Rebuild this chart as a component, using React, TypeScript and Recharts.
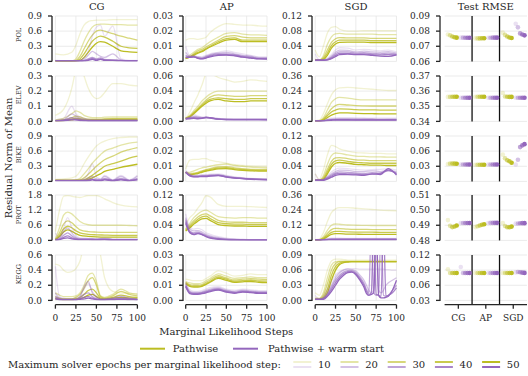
import React from "react";
import {
  LineChart,
  Line,
  XAxis,
  YAxis,
  CartesianGrid,
  ScatterChart,
  Scatter,
  ReferenceLine,
} from "recharts";

const FONT = "'DejaVu Serif', serif";
const INK = "#262626";
const OLIVE = "#bcbd22";
const PURPLE = "#9467bd";
const GRID_LINE = "#e6e6e6";

const epochs = [10, 20, 30, 40, 50];
const alphas = [0.2, 0.4, 0.6, 0.8, 1];
const methods = ["CG", "AP", "SGD"];
const datasets = ["POL", "ELEV", "BIKE", "PROT", "KEGG"];
const titles = ["CG", "AP", "SGD", "Test RMSE"];
const xTicks = [0, 25, 50, 75, 100];

const cgTicks = [[0, 0.3, 0.6, 0.9], [0, 0.1, 0.2, 0.3], [0, 0.3, 0.6, 0.9], [0, 0.6, 1.2, 1.8], [0, 0.2, 0.4, 0.6]];
const apTicks = [[0, 0.01, 0.02, 0.03], [0, 0.02, 0.04, 0.06], [0, 0.01, 0.02, 0.03], [0, 0.04, 0.08, 0.12], [0, 0.01, 0.02, 0.03]];
const sgdTicks = [[0, 0.04, 0.08, 0.12], [0, 0.12, 0.24, 0.36], [0, 0.04, 0.08, 0.12], [0, 0.12, 0.24, 0.36], [0, 0.03, 0.06, 0.09]];
const rmseTicks = [[0.06, 0.07, 0.08, 0.09], [0.34, 0.35, 0.36, 0.37], [0, 0.03, 0.06, 0.09], [0.48, 0.49, 0.5, 0.51], [0.03, 0.06, 0.09, 0.12]];

// marginal likelihood steps at which the curves are read
const stepsA = [0, 5, 10, 15, 20, 25, 30, 40, 50, 60, 70, 80, 90, 100];
const stepsCG = [0, 10, 20, 25, 30, 35, 40, 45, 50, 55, 60, 70, 80, 90, 100];
const stepsCgKegg = [0, 5, 10, 15, 20, 25, 30, 35, 40, 45, 50, 55, 60, 70, 80, 90, 100];
const stepsSgdKegg = [0, 5, 10, 15, 20, 25, 30, 35, 40, 45, 50, 55, 60, 63, 66, 69, 72, 75, 78, 81, 84, 87, 90, 95, 100];

// each panel: pathwise 10..50 epochs, then warm start 10..50 epochs
const cgPol = [
  [0.15, 0.13, 0.18, 0.32, 0.55, 0.72, 0.79, 0.81, 0.82, 0.82, 0.82, 0.83, 0.83, 0.83, 0.83],
  [0.005, 0.005, 0.01, 0.05, 0.2, 0.4, 0.56, 0.68, 0.73, 0.74, 0.74, 0.73, 0.73, 0.72, 0.72],
  [0.005, 0.005, 0.005, 0.02, 0.1, 0.25, 0.4, 0.52, 0.6, 0.62, 0.6, 0.55, 0.5, 0.46, 0.42],
  [0.005, 0.005, 0.005, 0.01, 0.05, 0.15, 0.28, 0.4, 0.47, 0.5, 0.48, 0.4, 0.3, 0.27, 0.26],
  [0.005, 0.005, 0.005, 0.005, 0.02, 0.08, 0.18, 0.28, 0.36, 0.39, 0.38, 0.3, 0.21, 0.19, 0.18],
  [0.02, 0.01, 0.01, 0.01, 0.02, 0.08, 0.2, 0.5, 0.68, 0.72, 0.5, 0.7, 0.05, 0.02, 0.02],
  [0.01, 0.01, 0.01, 0.01, 0.02, 0.05, 0.12, 0.2, 0.15, 0.1, 0.08, 0.15, 0.03, 0.01, 0.01],
  [0.01, 0.01, 0.01, 0.01, 0.01, 0.02, 0.05, 0.08, 0.05, 0.07, 0.04, 0.03, 0.02, 0.01, 0.01],
  [0.01, 0.01, 0.01, 0.01, 0.01, 0.015, 0.03, 0.06, 0.03, 0.05, 0.03, 0.02, 0.015, 0.01, 0.01],
  [0.01, 0.01, 0.01, 0.01, 0.01, 0.01, 0.02, 0.04, 0.02, 0.04, 0.02, 0.02, 0.015, 0.015, 0.015],
];
const cgElev = [
  [0.04, 0.08, 0.22, 0.34, 0.38, 0.3, 0.22, 0.17, 0.15, 0.16, 0.19, 0.25, 0.25, 0.24, 0.235],
  [0.01, 0.02, 0.05, 0.07, 0.06, 0.04, 0.03, 0.025, 0.025, 0.025, 0.028, 0.03, 0.03, 0.03, 0.03],
  [0.005, 0.01, 0.025, 0.035, 0.03, 0.02, 0.015, 0.015, 0.015, 0.015, 0.018, 0.02, 0.02, 0.02, 0.02],
  [0.005, 0.008, 0.015, 0.022, 0.018, 0.012, 0.01, 0.01, 0.01, 0.01, 0.012, 0.014, 0.014, 0.014, 0.014],
  [0.004, 0.006, 0.01, 0.015, 0.012, 0.009, 0.008, 0.008, 0.008, 0.008, 0.009, 0.01, 0.01, 0.01, 0.01],
  [0.01, 0.02, 0.1, 0.05, 0.03, 0.02, 0.015, 0.01, 0.01, 0.01, 0.01, 0.01, 0.01, 0.01, 0.01],
  [0.005, 0.01, 0.05, 0.035, 0.02, 0.015, 0.01, 0.008, 0.008, 0.008, 0.008, 0.008, 0.008, 0.008, 0.008],
  [0.005, 0.008, 0.025, 0.02, 0.012, 0.008, 0.006, 0.006, 0.006, 0.006, 0.006, 0.006, 0.006, 0.006, 0.006],
  [0.004, 0.006, 0.015, 0.012, 0.008, 0.006, 0.005, 0.005, 0.005, 0.005, 0.005, 0.005, 0.005, 0.005, 0.005],
  [0.004, 0.005, 0.01, 0.01, 0.006, 0.005, 0.004, 0.004, 0.004, 0.004, 0.004, 0.004, 0.004, 0.004, 0.004],
];
const cgBike = [
  [0.04, 0.05, 0.07, 0.1, 0.2, 0.35, 0.48, 0.6, 0.7, 0.76, 0.8, 0.85, 0.87, 0.88, 0.88],
  [0.02, 0.02, 0.02, 0.03, 0.06, 0.15, 0.25, 0.36, 0.45, 0.53, 0.6, 0.66, 0.72, 0.76, 0.78],
  [0.02, 0.02, 0.02, 0.02, 0.03, 0.07, 0.14, 0.22, 0.3, 0.37, 0.43, 0.5, 0.58, 0.63, 0.67],
  [0.02, 0.02, 0.02, 0.02, 0.02, 0.03, 0.07, 0.12, 0.18, 0.24, 0.3, 0.35, 0.4, 0.46, 0.5],
  [0.02, 0.02, 0.02, 0.02, 0.02, 0.02, 0.04, 0.07, 0.11, 0.15, 0.2, 0.24, 0.28, 0.31, 0.34],
  [0.02, 0.02, 0.02, 0.02, 0.02, 0.05, 0.15, 0.35, 0.1, 0.05, 0.12, 0.03, 0.12, 0.03, 0.12],
  [0.02, 0.02, 0.02, 0.02, 0.02, 0.03, 0.06, 0.1, 0.05, 0.04, 0.1, 0.02, 0.1, 0.02, 0.1],
  [0.02, 0.02, 0.02, 0.02, 0.02, 0.02, 0.03, 0.05, 0.03, 0.03, 0.06, 0.02, 0.06, 0.02, 0.06],
  [0.015, 0.015, 0.015, 0.015, 0.015, 0.015, 0.02, 0.04, 0.02, 0.02, 0.04, 0.015, 0.04, 0.015, 0.04],
  [0.015, 0.015, 0.015, 0.015, 0.015, 0.015, 0.015, 0.03, 0.015, 0.015, 0.03, 0.015, 0.03, 0.015, 0.03],
];
const cgProt = [
  [0.35, 1.2, 1.75, 1.78, 1.75, 1.72, 1.7, 1.78, 1.78, 1.65, 1.5, 1.4, 1.35, 1.33],
  [0.05, 0.5, 1.0, 1.12, 1.05, 0.9, 0.75, 0.62, 0.6, 0.6, 0.6, 0.6, 0.59, 0.58],
  [0.03, 0.3, 0.65, 0.77, 0.7, 0.55, 0.42, 0.35, 0.33, 0.32, 0.32, 0.32, 0.32, 0.32],
  [0.02, 0.2, 0.45, 0.56, 0.5, 0.38, 0.3, 0.24, 0.22, 0.21, 0.2, 0.2, 0.2, 0.2],
  [0.02, 0.15, 0.33, 0.42, 0.36, 0.27, 0.2, 0.16, 0.14, 0.13, 0.13, 0.13, 0.13, 0.13],
  [0.3, 0.1, 0.5, 0.9, 0.5, 0.2, 0.1, 0.08, 0.06, 0.1, 0.05, 0.05, 0.05, 0.05],
  [0.05, 0.1, 0.35, 0.5, 0.3, 0.12, 0.07, 0.06, 0.05, 0.07, 0.04, 0.04, 0.04, 0.04],
  [0.03, 0.06, 0.2, 0.3, 0.18, 0.08, 0.05, 0.05, 0.04, 0.05, 0.03, 0.03, 0.03, 0.03],
  [0.02, 0.04, 0.12, 0.18, 0.1, 0.05, 0.04, 0.04, 0.03, 0.04, 0.03, 0.03, 0.03, 0.03],
  [0.02, 0.03, 0.08, 0.1, 0.06, 0.04, 0.03, 0.03, 0.03, 0.03, 0.02, 0.02, 0.02, 0.02],
];
const cgKegg = [
  [0.48, 0.46, 0.4, 0.37, 0.38, 0.42, 0.52, 0.75, 0.9, 0.9, 0.8, 0.6, 0.3, 0.12, 0.1, 0.09, 0.09],
  [0.1, 0.07, 0.05, 0.05, 0.05, 0.06, 0.1, 0.2, 0.33, 0.36, 0.25, 0.06, 0.04, 0.08, 0.15, 0.1, 0.08],
  [0.05, 0.03, 0.02, 0.02, 0.02, 0.04, 0.08, 0.16, 0.26, 0.3, 0.2, 0.05, 0.03, 0.06, 0.12, 0.08, 0.06],
  [0.03, 0.02, 0.015, 0.015, 0.015, 0.02, 0.04, 0.08, 0.13, 0.15, 0.1, 0.03, 0.02, 0.04, 0.07, 0.05, 0.04],
  [0.02, 0.015, 0.01, 0.01, 0.01, 0.015, 0.02, 0.04, 0.07, 0.08, 0.05, 0.02, 0.015, 0.03, 0.04, 0.03, 0.03],
  [0.45, 0.05, 0.03, 0.02, 0.02, 0.03, 0.06, 0.15, 0.22, 0.12, 0.05, 0.02, 0.02, 0.03, 0.06, 0.03, 0.02],
  [0.1, 0.03, 0.02, 0.02, 0.02, 0.02, 0.05, 0.18, 0.25, 0.1, 0.04, 0.02, 0.02, 0.03, 0.05, 0.03, 0.02],
  [0.05, 0.02, 0.01, 0.01, 0.01, 0.01, 0.03, 0.08, 0.1, 0.05, 0.02, 0.01, 0.01, 0.02, 0.03, 0.02, 0.01],
  [0.03, 0.01, 0.01, 0.01, 0.01, 0.01, 0.02, 0.04, 0.05, 0.03, 0.015, 0.01, 0.01, 0.015, 0.02, 0.015, 0.01],
  [0.02, 0.01, 0.01, 0.01, 0.01, 0.01, 0.015, 0.02, 0.03, 0.02, 0.01, 0.01, 0.01, 0.01, 0.015, 0.01, 0.01],
];

const apPol = [
  [0.014, 0.015, 0.015, 0.0145, 0.015, 0.016, 0.019, 0.023, 0.025, 0.0245, 0.024, 0.024, 0.0235, 0.0233],
  [0.002, 0.004, 0.006, 0.008, 0.009, 0.011, 0.013, 0.016, 0.0185, 0.019, 0.018, 0.0175, 0.0175, 0.0172],
  [0.002, 0.003, 0.005, 0.007, 0.008, 0.0095, 0.011, 0.014, 0.0165, 0.017, 0.016, 0.0155, 0.0155, 0.0155],
  [0.002, 0.003, 0.0045, 0.006, 0.007, 0.0085, 0.01, 0.013, 0.015, 0.0155, 0.014, 0.014, 0.014, 0.014],
  [0.002, 0.0028, 0.004, 0.0055, 0.0065, 0.008, 0.0095, 0.012, 0.014, 0.0145, 0.013, 0.013, 0.013, 0.013],
  [0.01, 0.004, 0.004, 0.003, 0.003, 0.004, 0.005, 0.006, 0.007, 0.006, 0.005, 0.004, 0.003, 0.003],
  [0.006, 0.0035, 0.0035, 0.003, 0.0025, 0.0035, 0.0045, 0.0055, 0.006, 0.005, 0.004, 0.0035, 0.0025, 0.0025],
  [0.004, 0.003, 0.003, 0.0025, 0.002, 0.003, 0.004, 0.005, 0.005, 0.0045, 0.0035, 0.003, 0.002, 0.002],
  [0.003, 0.0028, 0.003, 0.0022, 0.0018, 0.0025, 0.0035, 0.0045, 0.0045, 0.004, 0.003, 0.0025, 0.0018, 0.0017],
  [0.0025, 0.0026, 0.003, 0.002, 0.0016, 0.0022, 0.003, 0.004, 0.0042, 0.0037, 0.0028, 0.0022, 0.0016, 0.0015],
];
const apElev = [
  [0.004, 0.012, 0.024, 0.035, 0.048, 0.062, 0.063, 0.058, 0.055, 0.052, 0.053, 0.055, 0.054, 0.053],
  [0.004, 0.008, 0.014, 0.02, 0.027, 0.032, 0.036, 0.04, 0.04, 0.04, 0.04, 0.04, 0.04, 0.04],
  [0.004, 0.007, 0.012, 0.017, 0.023, 0.028, 0.032, 0.035, 0.034, 0.033, 0.033, 0.034, 0.034, 0.034],
  [0.004, 0.006, 0.011, 0.016, 0.021, 0.026, 0.029, 0.031, 0.03, 0.029, 0.029, 0.03, 0.03, 0.03],
  [0.004, 0.006, 0.01, 0.015, 0.02, 0.024, 0.027, 0.029, 0.027, 0.026, 0.026, 0.027, 0.027, 0.027],
  [0.004, 0.006, 0.009, 0.007, 0.006, 0.006, 0.005, 0.004, 0.003, 0.003, 0.003, 0.003, 0.003, 0.003],
  [0.004, 0.005, 0.007, 0.006, 0.005, 0.005, 0.0045, 0.0035, 0.003, 0.0028, 0.0028, 0.0028, 0.0028, 0.0028],
  [0.004, 0.0045, 0.0055, 0.005, 0.0045, 0.005, 0.0045, 0.003, 0.0026, 0.0025, 0.0025, 0.0025, 0.0025, 0.0025],
  [0.0035, 0.004, 0.0045, 0.004, 0.004, 0.005, 0.0045, 0.003, 0.0025, 0.0024, 0.0024, 0.0024, 0.0024, 0.0024],
  [0.003, 0.0035, 0.004, 0.0035, 0.004, 0.0055, 0.005, 0.003, 0.0024, 0.0023, 0.0023, 0.0023, 0.0023, 0.0022],
];
const apBike = [
  [0.008, 0.014, 0.0145, 0.0145, 0.015, 0.015, 0.014, 0.013, 0.012, 0.011, 0.0105, 0.0102, 0.0101, 0.01],
  [0.006, 0.006, 0.007, 0.008, 0.009, 0.0095, 0.01, 0.011, 0.0115, 0.0105, 0.01, 0.0095, 0.0092, 0.009],
  [0.006, 0.005, 0.0055, 0.006, 0.007, 0.0078, 0.0085, 0.0095, 0.0098, 0.009, 0.0085, 0.008, 0.008, 0.008],
  [0.006, 0.0045, 0.005, 0.0055, 0.0065, 0.0072, 0.0078, 0.0088, 0.009, 0.0083, 0.0078, 0.0074, 0.0073, 0.0073],
  [0.006, 0.0042, 0.0048, 0.0052, 0.006, 0.0068, 0.0073, 0.0083, 0.0085, 0.0078, 0.0073, 0.007, 0.0068, 0.0068],
  [0.007, 0.005, 0.004, 0.0042, 0.0045, 0.0045, 0.0048, 0.005, 0.004, 0.003, 0.0025, 0.002, 0.0018, 0.0016],
  [0.0065, 0.0045, 0.0036, 0.0037, 0.004, 0.004, 0.0043, 0.0045, 0.0035, 0.0027, 0.0022, 0.0018, 0.0016, 0.0014],
  [0.006, 0.004, 0.0034, 0.0034, 0.0036, 0.0036, 0.004, 0.0042, 0.0032, 0.0024, 0.002, 0.0016, 0.0014, 0.0013],
  [0.006, 0.0038, 0.0032, 0.0032, 0.0034, 0.0034, 0.0037, 0.004, 0.003, 0.0023, 0.0019, 0.0015, 0.0013, 0.0012],
  [0.006, 0.0036, 0.003, 0.003, 0.0032, 0.0032, 0.0035, 0.0038, 0.0028, 0.0022, 0.0018, 0.0014, 0.0012, 0.0011],
];
const apProt = [
  [0.04, 0.06, 0.07, 0.085, 0.1, 0.118, 0.115, 0.095, 0.09, 0.09, 0.09, 0.089, 0.088, 0.087],
  [0.03, 0.045, 0.06, 0.07, 0.077, 0.08, 0.075, 0.063, 0.06, 0.059, 0.06, 0.06, 0.059, 0.059],
  [0.028, 0.04, 0.052, 0.062, 0.068, 0.07, 0.065, 0.053, 0.049, 0.048, 0.048, 0.047, 0.047, 0.047],
  [0.026, 0.036, 0.047, 0.056, 0.062, 0.064, 0.058, 0.047, 0.044, 0.043, 0.043, 0.042, 0.042, 0.042],
  [0.025, 0.033, 0.043, 0.051, 0.057, 0.058, 0.053, 0.042, 0.039, 0.038, 0.038, 0.037, 0.037, 0.037],
  [0.07, 0.035, 0.03, 0.032, 0.028, 0.02, 0.016, 0.01, 0.006, 0.004, 0.003, 0.002, 0.002, 0.002],
  [0.06, 0.03, 0.025, 0.026, 0.022, 0.016, 0.012, 0.007, 0.004, 0.003, 0.002, 0.0015, 0.0015, 0.0015],
  [0.055, 0.025, 0.02, 0.022, 0.018, 0.013, 0.009, 0.005, 0.003, 0.002, 0.0015, 0.0012, 0.0012, 0.0012],
  [0.05, 0.022, 0.017, 0.019, 0.016, 0.011, 0.007, 0.004, 0.002, 0.0015, 0.0012, 0.001, 0.001, 0.001],
  [0.045, 0.02, 0.015, 0.018, 0.015, 0.01, 0.006, 0.003, 0.0015, 0.001, 0.001, 0.0008, 0.0008, 0.0008],
];
const apKegg = [
  [0.014, 0.0135, 0.013, 0.013, 0.013, 0.0145, 0.016, 0.0195, 0.018, 0.016, 0.0165, 0.0175, 0.017, 0.017],
  [0.0125, 0.0115, 0.011, 0.011, 0.0115, 0.013, 0.0145, 0.0175, 0.016, 0.0145, 0.015, 0.0155, 0.015, 0.015],
  [0.012, 0.0105, 0.01, 0.01, 0.0105, 0.012, 0.0135, 0.0163, 0.0148, 0.0135, 0.014, 0.0143, 0.014, 0.0138],
  [0.0115, 0.0098, 0.0093, 0.0093, 0.0098, 0.011, 0.0125, 0.0153, 0.014, 0.0127, 0.013, 0.0133, 0.0128, 0.0127],
  [0.011, 0.0093, 0.0088, 0.0088, 0.0093, 0.0105, 0.012, 0.0145, 0.0133, 0.012, 0.0123, 0.0125, 0.012, 0.0118],
  [0.012, 0.007, 0.006, 0.006, 0.0065, 0.0075, 0.0085, 0.009, 0.0075, 0.0068, 0.0075, 0.007, 0.0065, 0.0065],
  [0.011, 0.006, 0.0052, 0.0052, 0.0057, 0.0066, 0.0075, 0.0082, 0.0068, 0.006, 0.0068, 0.0063, 0.0058, 0.0058],
  [0.01, 0.0055, 0.0048, 0.0048, 0.0052, 0.006, 0.0068, 0.0076, 0.0062, 0.0055, 0.0062, 0.0058, 0.0053, 0.0053],
  [0.0095, 0.005, 0.0044, 0.0044, 0.0048, 0.0055, 0.0063, 0.0072, 0.0058, 0.0051, 0.0058, 0.0054, 0.005, 0.005],
  [0.009, 0.0045, 0.004, 0.004, 0.0044, 0.005, 0.0058, 0.0068, 0.0054, 0.0047, 0.0055, 0.0051, 0.0047, 0.0047],
];

const sgdPol = [
  [0.03, 0.012, 0.04, 0.075, 0.09, 0.092, 0.085, 0.08, 0.08, 0.081, 0.081, 0.081, 0.081, 0.081],
  [0.005, 0.004, 0.015, 0.045, 0.065, 0.073, 0.074, 0.072, 0.072, 0.072, 0.072, 0.071, 0.071, 0.071],
  [0.004, 0.003, 0.01, 0.03, 0.05, 0.06, 0.063, 0.062, 0.062, 0.062, 0.061, 0.061, 0.061, 0.061],
  [0.004, 0.003, 0.007, 0.022, 0.042, 0.052, 0.056, 0.056, 0.056, 0.056, 0.055, 0.055, 0.055, 0.055],
  [0.004, 0.003, 0.005, 0.016, 0.035, 0.046, 0.05, 0.051, 0.051, 0.051, 0.05, 0.05, 0.05, 0.05],
  [0.02, 0.004, 0.004, 0.008, 0.018, 0.03, 0.036, 0.035, 0.03, 0.032, 0.03, 0.028, 0.03, 0.025],
  [0.004, 0.003, 0.003, 0.006, 0.014, 0.024, 0.03, 0.029, 0.025, 0.027, 0.025, 0.024, 0.026, 0.022],
  [0.003, 0.003, 0.003, 0.005, 0.011, 0.02, 0.025, 0.025, 0.022, 0.023, 0.021, 0.02, 0.022, 0.019],
  [0.003, 0.003, 0.003, 0.004, 0.009, 0.016, 0.021, 0.021, 0.019, 0.02, 0.018, 0.017, 0.018, 0.017],
  [0.003, 0.003, 0.003, 0.004, 0.007, 0.013, 0.018, 0.019, 0.018, 0.018, 0.016, 0.014, 0.013, 0.017],
];
const sgdElev = [
  [0.005, 0.01, 0.06, 0.14, 0.21, 0.25, 0.265, 0.27, 0.265, 0.26, 0.255, 0.25, 0.245, 0.245],
  [0.003, 0.005, 0.03, 0.09, 0.15, 0.18, 0.19, 0.185, 0.175, 0.17, 0.17, 0.17, 0.17, 0.17],
  [0.003, 0.004, 0.02, 0.06, 0.1, 0.125, 0.135, 0.13, 0.125, 0.123, 0.122, 0.122, 0.122, 0.122],
  [0.003, 0.004, 0.015, 0.045, 0.075, 0.09, 0.1, 0.098, 0.094, 0.092, 0.091, 0.09, 0.09, 0.09],
  [0.003, 0.003, 0.01, 0.03, 0.05, 0.062, 0.068, 0.067, 0.064, 0.062, 0.061, 0.06, 0.06, 0.06],
  [0.003, 0.004, 0.008, 0.018, 0.025, 0.028, 0.03, 0.03, 0.028, 0.027, 0.026, 0.026, 0.025, 0.025],
  [0.003, 0.003, 0.006, 0.013, 0.018, 0.02, 0.021, 0.021, 0.02, 0.019, 0.019, 0.018, 0.018, 0.018],
  [0.003, 0.003, 0.005, 0.01, 0.014, 0.016, 0.016, 0.016, 0.015, 0.015, 0.015, 0.014, 0.014, 0.014],
  [0.003, 0.003, 0.004, 0.008, 0.011, 0.013, 0.013, 0.013, 0.012, 0.012, 0.012, 0.012, 0.012, 0.012],
  [0.003, 0.003, 0.004, 0.007, 0.009, 0.011, 0.011, 0.011, 0.01, 0.01, 0.01, 0.01, 0.01, 0.01],
];
const sgdBike = [
  [0.02, 0.006, 0.03, 0.07, 0.095, 0.092, 0.086, 0.08, 0.076, 0.075, 0.074, 0.074, 0.073, 0.073],
  [0.004, 0.004, 0.015, 0.045, 0.068, 0.075, 0.074, 0.07, 0.067, 0.066, 0.065, 0.065, 0.064, 0.064],
  [0.004, 0.003, 0.01, 0.032, 0.053, 0.062, 0.063, 0.06, 0.057, 0.056, 0.055, 0.055, 0.055, 0.055],
  [0.004, 0.003, 0.007, 0.025, 0.045, 0.054, 0.056, 0.053, 0.05, 0.049, 0.048, 0.048, 0.048, 0.048],
  [0.004, 0.003, 0.005, 0.02, 0.038, 0.048, 0.05, 0.048, 0.045, 0.044, 0.043, 0.043, 0.042, 0.042],
  [0.02, 0.004, 0.006, 0.015, 0.025, 0.032, 0.035, 0.034, 0.031, 0.03, 0.031, 0.032, 0.033, 0.03],
  [0.004, 0.003, 0.005, 0.012, 0.02, 0.026, 0.03, 0.029, 0.026, 0.026, 0.028, 0.026, 0.03, 0.025],
  [0.003, 0.003, 0.004, 0.01, 0.017, 0.022, 0.025, 0.024, 0.022, 0.021, 0.023, 0.022, 0.028, 0.022],
  [0.003, 0.003, 0.004, 0.008, 0.014, 0.019, 0.021, 0.02, 0.019, 0.018, 0.019, 0.021, 0.03, 0.02],
  [0.003, 0.003, 0.003, 0.006, 0.011, 0.016, 0.018, 0.018, 0.017, 0.016, 0.02, 0.018, 0.034, 0.017],
];
const sgdProt = [
  [0.005, 0.01, 0.06, 0.15, 0.22, 0.25, 0.26, 0.26, 0.255, 0.25, 0.245, 0.24, 0.237, 0.235],
  [0.003, 0.005, 0.03, 0.08, 0.12, 0.13, 0.128, 0.122, 0.12, 0.119, 0.118, 0.118, 0.118, 0.118],
  [0.003, 0.004, 0.02, 0.055, 0.085, 0.095, 0.094, 0.09, 0.088, 0.087, 0.086, 0.086, 0.086, 0.086],
  [0.003, 0.004, 0.015, 0.04, 0.063, 0.072, 0.071, 0.068, 0.066, 0.065, 0.065, 0.064, 0.064, 0.064],
  [0.003, 0.003, 0.01, 0.03, 0.047, 0.054, 0.053, 0.05, 0.049, 0.048, 0.048, 0.047, 0.047, 0.047],
  [0.003, 0.004, 0.008, 0.015, 0.018, 0.018, 0.017, 0.016, 0.015, 0.015, 0.015, 0.015, 0.015, 0.015],
  [0.003, 0.003, 0.006, 0.01, 0.012, 0.012, 0.012, 0.011, 0.011, 0.011, 0.011, 0.011, 0.011, 0.011],
  [0.003, 0.003, 0.005, 0.008, 0.009, 0.009, 0.009, 0.009, 0.009, 0.009, 0.009, 0.009, 0.009, 0.009],
  [0.003, 0.003, 0.004, 0.006, 0.007, 0.007, 0.007, 0.007, 0.007, 0.007, 0.007, 0.007, 0.007, 0.007],
  [0.003, 0.003, 0.004, 0.005, 0.006, 0.006, 0.006, 0.006, 0.006, 0.006, 0.006, 0.006, 0.006, 0.006],
];
const sgdKegg = [
  [0.015, 0.01, 0.03, 0.06, 0.078, 0.082, 0.082, 0.081, 0.08, 0.08, 0.08, 0.08, 0.08, 0.08, 0.08, 0.08, 0.08, 0.08, 0.08, 0.08, 0.08, 0.08, 0.08, 0.08, 0.08],
  [0.005, 0.004, 0.015, 0.045, 0.07, 0.077, 0.078, 0.078, 0.078, 0.078, 0.078, 0.078, 0.078, 0.078, 0.078, 0.078, 0.078, 0.078, 0.078, 0.078, 0.078, 0.078, 0.078, 0.078, 0.078],
  [0.003, 0.003, 0.01, 0.033, 0.06, 0.073, 0.077, 0.077, 0.077, 0.077, 0.077, 0.077, 0.077, 0.077, 0.077, 0.077, 0.077, 0.077, 0.077, 0.077, 0.077, 0.077, 0.077, 0.077, 0.077],
  [0.002, 0.002, 0.006, 0.022, 0.05, 0.067, 0.074, 0.076, 0.077, 0.077, 0.077, 0.077, 0.077, 0.077, 0.077, 0.077, 0.077, 0.077, 0.077, 0.077, 0.077, 0.077, 0.077, 0.077, 0.077],
  [0.002, 0.002, 0.004, 0.015, 0.04, 0.06, 0.071, 0.075, 0.076, 0.077, 0.077, 0.077, 0.077, 0.077, 0.077, 0.077, 0.077, 0.077, 0.077, 0.077, 0.077, 0.077, 0.077, 0.077, 0.077],
  [0.01, 0.003, 0.008, 0.022, 0.038, 0.05, 0.057, 0.061, 0.063, 0.063, 0.063, 0.062, 0.062, 0.062, 0.062, 0.062, 0.062, 0.062, 0.062, 0.062, 0.062, 0.061, 0.061, 0.06, 0.06],
  [0.003, 0.002, 0.005, 0.015, 0.03, 0.045, 0.055, 0.06, 0.062, 0.061, 0.058, 0.05, 0.04, 0.03, 0.02, 0.015, 0.02, 0.15, 0.02, 0.015, 0.02, 0.03, 0.035, 0.04, 0.045],
  [0.003, 0.002, 0.004, 0.012, 0.026, 0.04, 0.05, 0.056, 0.059, 0.059, 0.055, 0.046, 0.034, 0.022, 0.015, 0.15, 0.015, 0.01, 0.012, 0.15, 0.01, 0.008, 0.01, 0.02, 0.03],
  [0.002, 0.002, 0.003, 0.01, 0.022, 0.035, 0.046, 0.053, 0.057, 0.057, 0.053, 0.043, 0.03, 0.018, 0.012, 0.015, 0.15, 0.012, 0.01, 0.008, 0.15, 0.008, 0.01, 0.015, 0.025],
  [0.002, 0.002, 0.002, 0.008, 0.018, 0.03, 0.042, 0.05, 0.055, 0.056, 0.051, 0.04, 0.026, 0.014, 0.01, 0.012, 0.015, 0.15, 0.01, 0.005, 0.005, 0.006, 0.008, 0.02, 0.04],
];

// test RMSE: per method (CG, AP, SGD) pathwise 10..50 then warm start 10..50
const rmsePol = [
  0.0778, 0.0772, 0.0765, 0.076, 0.0757, 0.0757, 0.0757, 0.0756, 0.0756, 0.0756,
  0.0752, 0.0752, 0.0752, 0.0753, 0.0753, 0.0756, 0.0756, 0.0757, 0.0757, 0.0757,
  0.079, 0.0775, 0.0765, 0.0758, 0.0755, 0.0848, 0.0825, 0.0785, 0.0778, 0.0772,
];
const rmseElev = [
  0.3562, 0.3562, 0.3563, 0.3563, 0.3563, 0.3556, 0.3556, 0.3556, 0.3556, 0.3556,
  0.3563, 0.3563, 0.3563, 0.3563, 0.3563, 0.3556, 0.3556, 0.3556, 0.3556, 0.3556,
  0.3588, 0.3565, 0.3563, 0.3562, 0.3562, 0.3556, 0.3556, 0.3556, 0.3556, 0.3556,
];
const rmseBike = [
  0.0345, 0.0352, 0.0353, 0.0352, 0.035, 0.0335, 0.0335, 0.0335, 0.0335, 0.0335,
  0.033, 0.033, 0.033, 0.033, 0.033, 0.0335, 0.0335, 0.0335, 0.0335, 0.0335,
  0.053, 0.046, 0.042, 0.0398, 0.037, 0.0335, 0.043, 0.068, 0.0715, 0.0738,
];
const rmseProt = [
  0.4934, 0.4896, 0.4888, 0.4892, 0.4898, 0.4915, 0.4915, 0.4915, 0.4915, 0.4915,
  0.4888, 0.4893, 0.4898, 0.4903, 0.4907, 0.4915, 0.4916, 0.4916, 0.4916, 0.4916,
  0.4915, 0.4895, 0.4887, 0.4887, 0.4891, 0.4911, 0.4912, 0.4913, 0.4914, 0.4914,
];
const rmseKegg = [
  0.0915, 0.0843, 0.0843, 0.0843, 0.0843, 0.0962, 0.0843, 0.0843, 0.0843, 0.0843,
  0.0843, 0.0843, 0.0843, 0.0843, 0.0843, 0.0843, 0.0843, 0.0843, 0.0843, 0.0843,
  0.0843, 0.0843, 0.0843, 0.0843, 0.0843, 0.0855, 0.0862, 0.0858, 0.085, 0.0845,
];

const curveData = [
  [cgPol, cgElev, cgBike, cgProt, cgKegg],
  [apPol, apElev, apBike, apProt, apKegg],
  [sgdPol, sgdElev, sgdBike, sgdProt, sgdKegg],
];
const curveSteps = [
  [stepsCG, stepsCG, stepsCG, stepsA, stepsCgKegg],
  [stepsA, stepsA, stepsA, stepsA, stepsA],
  [stepsA, stepsA, stepsA, stepsA, stepsSgdKegg],
];
const curveTicks = [cgTicks, apTicks, sgdTicks];
const rmseData = [rmsePol, rmseElev, rmseBike, rmseProt, rmseKegg];

// layout (page pixels)
const SPINE = [52.3, 183.3, 312.2, 440];
const X0 = [55.7, 186, 315.4, 444.6];
const X1 = [137.7, 267.3, 396.7, 527];
const ROW_TOP = [15.7, 75.6, 135.5, 195.4, 255];
const PLOT_H = 45.4;
const YW = 40;
const MT = 6;
const MB = 6;
const MR = 10;
const PAD_B = 4.3;
const XH = 22;

const tickStyle = { fill: INK, fontSize: 9, fontFamily: FONT };
const spine = { stroke: INK, strokeWidth: 1.3 };

function frame(col: number, row: number) {
  const last = row === 4;
  const pad = X0[col] - SPINE[col];
  const plotW = X1[col] - X0[col];
  const padB = last ? PAD_B : 0;
  return {
    last,
    pad,
    plotW,
    padB,
    width: YW + pad + plotW + MR,
    height: MT + PLOT_H + padB + (last ? XH : MB),
    margin: { top: MT, right: MR, bottom: last ? 0 : MB, left: 0 },
    style: { position: "absolute" as const, left: SPINE[col] - YW, top: ROW_TOP[row] - MT },
  };
}

function CurvePanel({ col, row }: { col: number; row: number }) {
  const f = frame(col, row);
  const series = curveData[col][row];
  const steps = curveSteps[col][row];
  const ticks = curveTicks[col][row];
  const digits = col === 0 ? 1 : 2;
  const rows = steps.map((x, i) => {
    const d: Record<string, number> = { x };
    series.forEach((s, k) => {
      d["s" + k] = s[i];
    });
    return d;
  });
  return (
    <div style={f.style}>
      <LineChart width={f.width} height={f.height} data={rows} margin={f.margin}>
        <CartesianGrid stroke={GRID_LINE} strokeWidth={0.8} x={YW + f.pad} y={MT} width={f.plotW} height={PLOT_H} />
        <XAxis
          type="number"
          dataKey="x"
          domain={[0, 100]}
          ticks={xTicks}
          interval={0}
          hide={!f.last}
          height={XH}
          padding={{ left: f.pad, right: 0 }}
          axisLine={{ ...spine, strokeDasharray: `0 ${f.pad} ${f.plotW + 1} 0` }}
          tickLine={spine}
          tickSize={4}
          tickMargin={6}
          tick={tickStyle}
        />
        <YAxis
          type="number"
          domain={[0, ticks[ticks.length - 1]]}
          ticks={ticks}
          interval={0}
          allowDataOverflow
          width={YW}
          padding={{ top: 0, bottom: f.padB }}
          tickFormatter={(v: number) => v.toFixed(digits)}
          axisLine={{ ...spine, strokeDasharray: `${PLOT_H + 0.6} 200` }}
          tickLine={spine}
          tickSize={4}
          tickMargin={6}
          tick={tickStyle}
        />
        {series.map((_, k) => (
          <Line
            key={k}
            type="monotone"
            dataKey={"s" + k}
            stroke={k < 5 ? OLIVE : PURPLE}
            strokeOpacity={alphas[k % 5]}
            strokeWidth={1.3}
            dot={false}
            activeDot={false}
            isAnimationActive={false}
          />
        ))}
      </LineChart>
    </div>
  );
}

function RmsePanel({ row }: { row: number }) {
  const f = frame(3, row);
  const values = rmseData[row];
  const ticks = rmseTicks[row];
  const groups = [OLIVE, PURPLE].flatMap((color, c) =>
    epochs.map((e, i) => ({
      key: `${c}-${e}`,
      color,
      alpha: alphas[i],
      // dodge the ten runs across each method's slot
      points: methods.map((m, j) => ({
        x: j + 0.5 + (c === 0 ? -0.38 : 0.09) + 0.08 * i,
        y: values[j * 10 + c * 5 + i],
      })),
    }))
  );
  return (
    <div style={f.style}>
      <ScatterChart width={f.width} height={f.height} margin={f.margin}>
        <CartesianGrid stroke={GRID_LINE} strokeWidth={0.8} vertical={false} x={YW + f.pad} y={MT} width={f.plotW} height={PLOT_H} />
        <XAxis
          type="number"
          dataKey="x"
          domain={[0, 3]}
          ticks={[0.5, 1.5, 2.5]}
          interval={0}
          tickFormatter={(v: number) => methods[Math.floor(v)]}
          hide={!f.last}
          height={XH}
          padding={{ left: f.pad, right: 0 }}
          axisLine={{ ...spine, strokeDasharray: `0 ${f.pad} ${f.plotW + 1} 0` }}
          tickLine={spine}
          tickSize={4}
          tickMargin={6}
          tick={tickStyle}
        />
        <YAxis
          type="number"
          dataKey="y"
          domain={[ticks[0], ticks[ticks.length - 1]]}
          ticks={ticks}
          interval={0}
          allowDataOverflow
          width={YW}
          padding={{ top: 0, bottom: f.padB }}
          tickFormatter={(v: number) => v.toFixed(2)}
          axisLine={{ ...spine, strokeDasharray: `${PLOT_H + 0.6} 200` }}
          tickLine={spine}
          tickSize={4}
          tickMargin={6}
          tick={tickStyle}
        />
        <ReferenceLine x={1} stroke="#111" strokeWidth={1.3} />
        <ReferenceLine x={2} stroke="#111" strokeWidth={1.3} />
        {groups.map((g) => (
          <Scatter
            key={g.key}
            data={g.points}
            isAnimationActive={false}
            shape={(p: any) => <circle cx={p.cx} cy={p.cy} r={2.3} fill={g.color} fillOpacity={g.alpha} />}
          />
        ))}
      </ScatterChart>
    </div>
  );
}

function Annotations() {
  const txt = { fontFamily: FONT, fill: INK };
  return (
    <svg width={528} height={376} style={{ position: "absolute", left: 0, top: 0, pointerEvents: "none" }}>
      {titles.map((t, c) => (
        <text key={t} x={(X0[c] + X1[c]) / 2} y={10.2} textAnchor="middle" fontSize={10} {...txt}>
          {t}
        </text>
      ))}
      {datasets.map((d, r) => (
        <text
          key={d}
          transform={`translate(20.5, ${ROW_TOP[r] + PLOT_H / 2 - 3.5}) rotate(-90)`}
          textAnchor="middle"
          fontSize={6.6}
          {...txt}
        >
          {d}
        </text>
      ))}
      <text transform="translate(11.5, 158) rotate(-90)" textAnchor="middle" fontSize={10} {...txt}>
        Residual Norm of Mean
      </text>
      <text x={226.2} y={334.5} textAnchor="middle" fontSize={10} {...txt}>
        Marginal Likelihood Steps
      </text>
      <line x1={140} x2={165} y1={348.7} y2={348.7} stroke={OLIVE} strokeWidth={2} />
      <text x={172.7} y={352} fontSize={10} {...txt}>
        Pathwise
      </text>
      <line x1={233} x2={258} y1={348.7} y2={348.7} stroke={PURPLE} strokeWidth={2} />
      <text x={268} y={352} fontSize={10} {...txt}>
        Pathwise + warm start
      </text>
      <text x={8} y={367.5} fontSize={10} {...txt}>
        Maximum solver epochs per marginal likelihood step:
      </text>
      {epochs.map((e, i) => {
        const x = 293.3 + 47.2 * i;
        return (
          <g key={e}>
            <line x1={x} x2={x + 18} y1={362} y2={362} stroke={OLIVE} strokeOpacity={alphas[i]} strokeWidth={2} />
            <line x1={x} x2={x + 18} y1={367} y2={367} stroke={PURPLE} strokeOpacity={alphas[i]} strokeWidth={2} />
            <text x={x + 24.7} y={367.5} fontSize={10} {...txt}>
              {e}
            </text>
          </g>
        );
      })}
    </svg>
  );
}

export default function App() {
  return (
    <div style={{ position: "absolute", left: 0, top: 0, width: 528, height: 376, background: "#fff" }}>
      {[0, 1, 2].map((col) => datasets.map((_, row) => <CurvePanel key={`${col}-${row}`} col={col} row={row} />))}
      {datasets.map((_, row) => (
        <RmsePanel key={`r-${row}`} row={row} />
      ))}
      <Annotations />
    </div>
  );
}
